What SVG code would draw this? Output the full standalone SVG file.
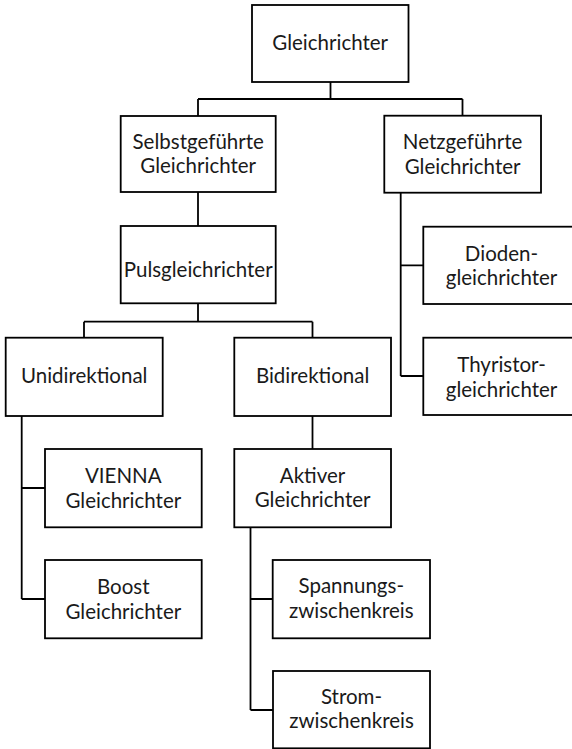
<svg xmlns="http://www.w3.org/2000/svg" width="572" height="749" viewBox="0 0 572 749">
<style>
.box rect{fill:#fff;stroke:#000;stroke-width:1.8}
.box text{font-family:Lato,"Liberation Sans",sans-serif;font-size:20.5px;fill:#1a1a1a;text-anchor:middle}
#connectors{fill:none;stroke:#000;stroke-width:1.8}
</style>
<rect width="572" height="749" fill="#fff"/>
<g id="connectors">
<path d="M330.5,82V99M198,99H462.5M198,99V116M462.5,99V116"/>
<path d="M198,192V226"/>
<path d="M198,303.5V321.7M84,321.7H312.5M84,321.7V337.7M312.5,321.7V337.7"/>
<path d="M400.7,192.7V376M400.7,265.3H423.3M400.7,376H423.3"/>
<path d="M21.7,416V599M21.7,488H45M21.7,599H45"/>
<path d="M312.5,416V449"/>
<path d="M250.5,527.3V710M250.5,599H272.7M250.5,710H273"/>
</g>
<g id="n1" class="box"><rect x="252" y="5" width="156.5" height="77"/><text x="330.2" y="50">Gleichrichter</text></g>
<g id="n2" class="box"><rect x="120.7" y="116" width="155" height="76"/><text x="198.2" y="149">Selbstgeführte</text><text x="198.2" y="173">Gleichrichter</text></g>
<g id="n3" class="box"><rect x="384.3" y="115.7" width="156.7" height="77"/><text x="462.6" y="149">Netzgeführte</text><text x="462.6" y="173.5">Gleichrichter</text></g>
<g id="n4" class="box"><rect x="120.7" y="226" width="155" height="77.3"/><text x="198.2" y="277">Pulsgleichrichter</text></g>
<g id="n5" class="box"><rect x="423.3" y="226.7" width="156.5" height="77.3"/><text x="501.5" y="260.5">Dioden-</text><text x="501.5" y="285">gleichrichter</text></g>
<g id="n6" class="box"><rect x="423.3" y="337.7" width="156.5" height="77.3"/><text x="501.5" y="372">Thyristor-</text><text x="501.5" y="396.5">gleichrichter</text></g>
<g id="n7" class="box"><rect x="5.7" y="337.7" width="157" height="78.3"/><text x="84.2" y="383.3">Unidirektional</text></g>
<g id="n8" class="box"><rect x="234.3" y="337.7" width="156.7" height="78.3"/><text x="312.6" y="383.3">Bidirektional</text></g>
<g id="n9" class="box"><rect x="45" y="449" width="156.7" height="78.3"/><text x="123.3" y="483">VIENNA</text><text x="123.3" y="507.5">Gleichrichter</text></g>
<g id="n10" class="box"><rect x="234.3" y="449" width="156.7" height="78.3"/><text x="312.6" y="482.7">Aktiver</text><text x="312.6" y="507.3">Gleichrichter</text></g>
<g id="n11" class="box"><rect x="45" y="560" width="156.7" height="78.3"/><text x="123.3" y="594">Boost</text><text x="123.3" y="618.5">Gleichrichter</text></g>
<g id="n12" class="box"><rect x="272.7" y="560" width="157.3" height="78.3"/><text x="351.3" y="593.3">Spannungs-</text><text x="351.3" y="618.3">zwischenkreis</text></g>
<g id="n13" class="box"><rect x="273" y="671" width="157" height="77.3"/><text x="351.5" y="703.5">Strom-</text><text x="351.5" y="728.3">zwischenkreis</text></g>
</svg>
